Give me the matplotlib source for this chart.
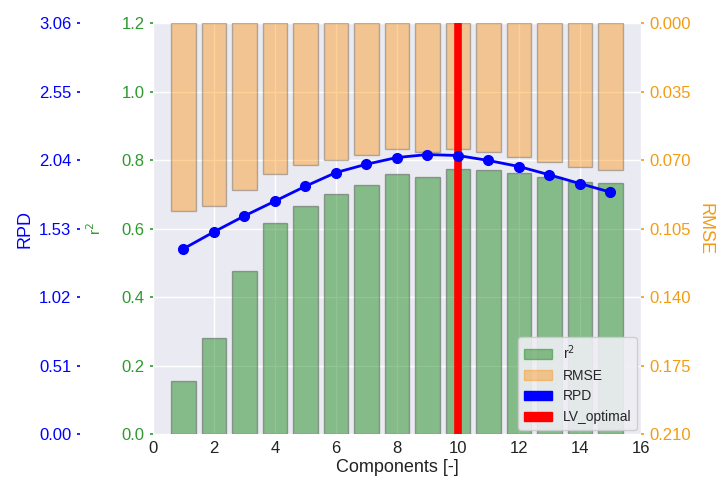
import matplotlib
matplotlib.use("Agg")
import matplotlib.pyplot as plt
import matplotlib.patches as mpatches
import numpy as np
import seaborn as sns

components = [1, 2, 3, 4, 5, 6, 7, 8, 9, 10, 11, 12, 13, 14, 15]
r2 = [0.156, 0.282, 0.477, 0.617, 0.667, 0.701, 0.728, 0.759, 0.752, 0.773,
      0.771, 0.763, 0.751, 0.735, 0.733]
rmse = [0.0962, 0.0933, 0.0850, 0.0768, 0.0726, 0.0698, 0.0673, 0.0644, 0.0656,
        0.0642, 0.0659, 0.0685, 0.0707, 0.0736, 0.0751]
rpd = [1.380, 1.506, 1.625, 1.735, 1.846, 1.948, 2.010, 2.060, 2.082, 2.075,
       2.038, 1.993, 1.931, 1.866, 1.802]
lv_optimal = 10

xticks = [0, 2, 4, 6, 8, 10, 12, 14, 16]
r2_ticks = [0.0, 0.2, 0.4, 0.6, 0.8, 1.0, 1.2]
rpd_ticks = [0.00, 0.51, 1.02, 1.53, 2.04, 2.55, 3.06]
rmse_ticks = [0.000, 0.035, 0.070, 0.105, 0.140, 0.175, 0.210]

sns.set_theme(style="darkgrid")
plt.rcParams['font.family'] = ['Liberation Sans', 'DejaVu Sans']

c_green_txt = '#2e9a2e'
c_blue = '#0000ff'
c_orange_txt = '#f39c12'

fig = plt.figure(figsize=(7.21, 4.84), dpi=100)
ax1 = fig.add_axes([0.212, 0.103, 0.677, 0.849])

ax1.bar(components, r2, width=0.8, color='forestgreen', alpha=0.5,
        edgecolor='#555555', linewidth=1.0)
ax1.set_xlim(0, 16)
ax1.set_ylim(0, 1.2)
ax1.set_xticks(xticks)
ax1.set_yticks(r2_ticks)
ax1.set_yticklabels([f"{t:.1f}" for t in r2_ticks])
ax1.tick_params(axis='y', colors=c_green_txt, labelsize=12, length=2, width=1.2, pad=4)
ax1.tick_params(axis='x', labelsize=12, length=2, width=1.2, colors='#222222', pad=3)
ax1.set_xlabel("Components [-]", fontsize=13, color='#222222', labelpad=2)
ax1.set_ylabel("r$^2$", fontsize=11, color=c_green_txt)
ax1.yaxis.set_label_coords(-0.1, 0.5)

ax2 = ax1.twinx()
ax2.grid(False)
ax2.bar(components, rmse, width=0.8, color='darkorange', alpha=0.4,
        edgecolor='#555555', linewidth=1.0)
ax2.set_ylim(0.21, 0.0)
ax2.set_yticks(rmse_ticks)
ax2.set_yticklabels([f"{t:.3f}" for t in rmse_ticks])
ax2.tick_params(axis='y', colors=c_orange_txt, labelsize=12, length=2, width=1.2, pad=4)
ax2.set_ylabel("RMSE", fontsize=13, color=c_orange_txt, rotation=270, labelpad=16)
ax2.axvline(lv_optimal, color='red', linewidth=5.5)

ax3 = ax1.twinx()
ax3.grid(False)
ax3.spines['left'].set_position(('axes', -0.15))
ax3.yaxis.set_ticks_position('left')
ax3.yaxis.set_label_position('left')
ax3.plot(components, rpd, color=c_blue, marker='o', markersize=7, linewidth=2)
ax3.set_ylim(0, 3.06)
ax3.set_yticks(rpd_ticks)
ax3.set_yticklabels([f"{t:.2f}" for t in rpd_ticks])
ax3.tick_params(axis='y', colors=c_blue, labelsize=12, length=2, width=1.2, pad=4)
ax3.set_ylabel("RPD", fontsize=13, color=c_blue, labelpad=4)

for a in (ax1, ax2, ax3):
    for s in a.spines.values():
        s.set_visible(False)

handles = [mpatches.Patch(color='forestgreen', alpha=0.5, label='r$^2$'),
           mpatches.Patch(color='darkorange', alpha=0.4, label='RMSE'),
           mpatches.Patch(color='blue', label='RPD'),
           mpatches.Patch(color='red', label='LV_optimal')]
leg = ax3.legend(handles=handles, loc='lower right', fontsize=10,
                 frameon=True, facecolor='#eeeef4', framealpha=0.9,
                 borderaxespad=0.3)
leg.set_zorder(10)

fig.savefig("out.png", dpi=100)
